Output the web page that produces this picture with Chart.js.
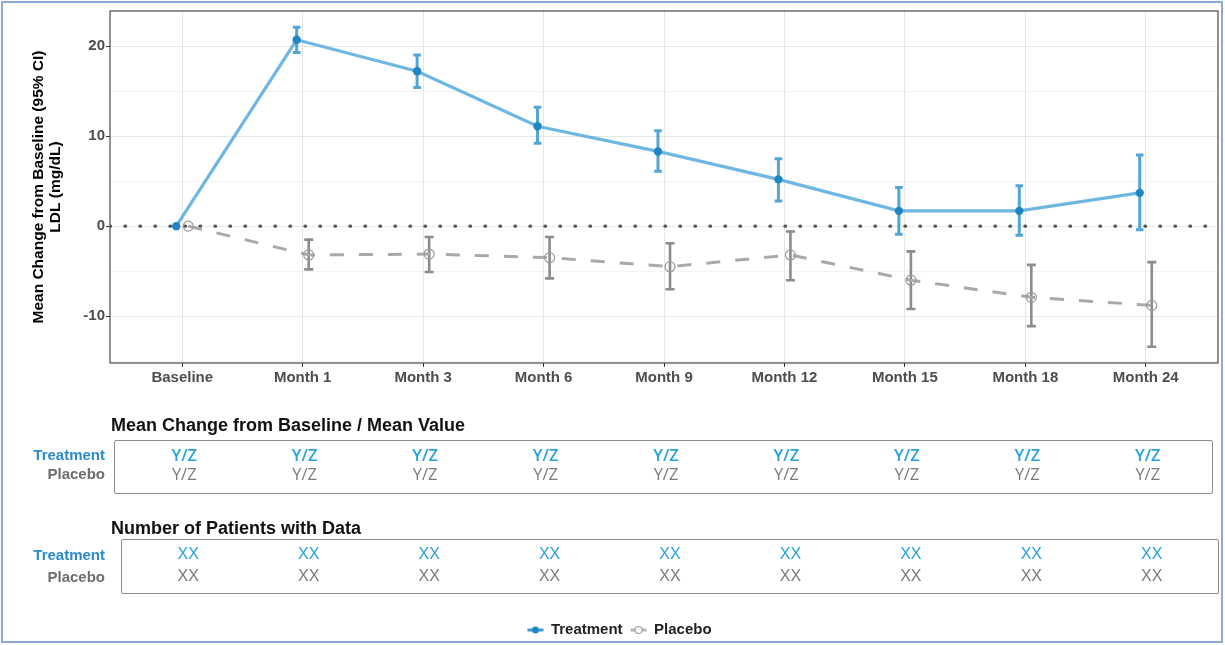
<!DOCTYPE html>
<html>
<head>
<meta charset="utf-8">
<title>LDL mean change from baseline</title>
<script src="https://cdn.jsdelivr.net/npm/chart.js@4/dist/chart.umd.min.js"></script>
<style>
  html, body { margin: 0; padding: 0; background: #fff; }
  #wrap { position: relative; width: 1225px; height: 645px; overflow: hidden; background: #fff; }
  #chart { position: absolute; left: 0; top: 0; }
  .frame { position: absolute; left: 1px; top: 1px; width: 1222px; height: 642px;
           border: 2px solid #8ea9d8; box-sizing: border-box; pointer-events: none; }
  .ttl { position: absolute; left: 111px; transform: translateY(-50%); white-space: nowrap;
         font: bold 18px "Liberation Sans", Arial, sans-serif; color: #111; }
  .box { position: absolute; border: 1.5px solid #8c8c8c; border-radius: 2px; box-sizing: border-box; }
  .rowlab { position: absolute; transform: translate(-100%, -50%); white-space: nowrap;
            font: bold 15px "Liberation Sans", Arial, sans-serif; }
  .cell { position: absolute; transform: translate(-50%, -50%); white-space: nowrap; }
  .yz { font-family: "Open Sans", sans-serif; font-size: 16.5px; }
  .xx { font-family: "Liberation Sans", Arial, sans-serif; font-size: 16px; }
  .trt { color: #27a2dd; }
  .pbo { color: #7b7b7b; }
</style>
</head>
<body>
<div id="wrap">
  <canvas id="chart" width="1225" height="645"></canvas>
  <div id="tables"></div>
  <div class="frame"></div>
</div>
<script>
// ---- data ----
const categories = ['Baseline', 'Month 1', 'Month 3', 'Month 6', 'Month 9', 'Month 12', 'Month 15', 'Month 18', 'Month 24'];

const treatmentMean  = [0, 20.7, 17.2, 11.1, 8.3, 5.2, 1.7, 1.7, 3.7];
const treatmentLower = [null, 19.3, 15.4, 9.2, 6.1, 2.8, -0.9, -1.0, -0.4];
const treatmentUpper = [null, 22.1, 19.0, 13.2, 10.6, 7.5, 4.3, 4.5, 7.9];

const placeboMean  = [0, -3.2, -3.1, -3.5, -4.5, -3.2, -6.0, -7.9, -8.8];
const placeboLower = [null, -4.8, -5.1, -5.8, -7.0, -6.0, -9.2, -11.1, -13.4];
const placeboUpper = [null, -1.5, -1.2, -1.2, -1.9, -0.6, -2.8, -4.3, -4.0];

const referenceValue = 0;

const yMajorTicks = [-10, 0, 10, 20];
const yMinorTicks = [-15, -5, 5, 15];

const changeTreatment = ['Y/Z', 'Y/Z', 'Y/Z', 'Y/Z', 'Y/Z', 'Y/Z', 'Y/Z', 'Y/Z', 'Y/Z'];
const changePlacebo   = ['Y/Z', 'Y/Z', 'Y/Z', 'Y/Z', 'Y/Z', 'Y/Z', 'Y/Z', 'Y/Z', 'Y/Z'];
const patientsTreatment = ['XX', 'XX', 'XX', 'XX', 'XX', 'XX', 'XX', 'XX', 'XX'];
const patientsPlacebo   = ['XX', 'XX', 'XX', 'XX', 'XX', 'XX', 'XX', 'XX', 'XX'];

// ---- styling ----
const FONT = '"Liberation Sans", Arial, sans-serif';
const DODGE = 0.05;           // horizontal offset of the two arms around each visit
const X_MIN = -0.6, X_MAX = 8.6;
const Y_MIN = -15.2, Y_MAX = 23.9;

const BLUE_LINE = 'rgba(74, 165, 218, 0.8)';
const BLUE_DOT = '#1f86c3';
const BLUE_ERR = 'rgba(38, 144, 204, 0.8)';
const GREY_LINE = '#a9a9a9';
const GREY_ERR = '#8c8c8c';

const toPoints = (values, shift) => values.map((v, i) => ({ x: i + shift, y: v }));

// small legend glyphs: a line segment with the series marker on it
function legendGlyph(lineColor, fill, stroke, r) {
  const c = document.createElement('canvas');
  c.width = 18; c.height = 12;
  const g = c.getContext('2d');
  g.strokeStyle = lineColor; g.lineWidth = 3;
  g.beginPath(); g.moveTo(1, 6); g.lineTo(17, 6); g.stroke();
  g.beginPath(); g.arc(9, 6, r, 0, Math.PI * 2);
  if (fill) { g.fillStyle = fill; g.fill(); }
  if (stroke) { g.strokeStyle = stroke; g.lineWidth = 1.2; g.stroke(); }
  return c;
}

// vertical 95% CI bars with caps, drawn through the chart's scales
const errorBars = {
  id: 'errorBars',
  beforeDatasetsDraw(chart) {
    const { ctx, chartArea, scales: { x, y } } = chart;
    ctx.save();
    ctx.beginPath();
    ctx.rect(chartArea.left, chartArea.top, chartArea.right - chartArea.left, chartArea.bottom - chartArea.top);
    ctx.clip();
    chart.data.datasets.forEach((ds, di) => {
      if (!ds.errorLower || chart.getDatasetMeta(di).hidden) return;
      ctx.strokeStyle = ds.errorColor;
      ctx.lineWidth = ds.errorWidth;
      ctx.lineCap = 'butt';
      ds.data.forEach((p, i) => {
        const lo = ds.errorLower[i], hi = ds.errorUpper[i];
        if (lo == null || hi == null) return;
        const px = x.getPixelForValue(p.x);
        const pLo = y.getPixelForValue(lo);
        const pHi = y.getPixelForValue(hi);
        const w = ds.errorCap;
        ctx.beginPath();
        ctx.moveTo(px, pLo); ctx.lineTo(px, pHi);
        ctx.moveTo(px - w, pLo); ctx.lineTo(px + w, pLo);
        ctx.moveTo(px - w, pHi); ctx.lineTo(px + w, pHi);
        ctx.stroke();
      });
    });
    ctx.restore();
  }
};

// full rectangle around the plotting panel
const panelBorder = {
  id: 'panelBorder',
  afterDatasetsDraw(chart) {
    const { ctx, chartArea: a } = chart;
    ctx.save();
    ctx.strokeStyle = '#4a4a4a';
    ctx.lineWidth = 1.2;
    ctx.strokeRect(a.left, a.top, a.right - a.left, a.bottom - a.top);
    ctx.restore();
  }
};

const isMajor = v => yMajorTicks.includes(v);

const chart = new Chart(document.getElementById('chart'), {
  type: 'line',
  data: {
    datasets: [
      {
        label: 'Treatment',
        data: toPoints(treatmentMean, -DODGE),
        errorLower: treatmentLower,
        errorUpper: treatmentUpper,
        errorColor: BLUE_ERR, errorWidth: 3, errorCap: 3.8,
        borderColor: BLUE_LINE, borderWidth: 3.2,
        pointRadius: 4.2, pointBackgroundColor: BLUE_DOT, pointBorderWidth: 0,
        legendGlyph: legendGlyph('rgba(38,144,204,0.9)', BLUE_DOT, null, 3.5),
        tension: 0
      },
      {
        label: 'Placebo',
        data: toPoints(placeboMean, DODGE),
        errorLower: placeboLower,
        errorUpper: placeboUpper,
        errorColor: GREY_ERR, errorWidth: 2.6, errorCap: 4.5,
        borderColor: GREY_LINE, borderWidth: 3, borderDash: [14, 15],
        pointRadius: 5, pointBackgroundColor: 'rgba(255,255,255,0)',
        pointBorderColor: '#9a9a9a', pointBorderWidth: 1.2,
        legendGlyph: legendGlyph('#b5b5b5', '#ffffff', '#9a9a9a', 3.5),
        tension: 0
      },
      {
        label: 'reference',
        data: [{ x: X_MIN, y: referenceValue }, { x: X_MAX, y: referenceValue }],
        borderColor: '#555555', borderWidth: 3.4,
        borderDash: [0.5, 14.5], borderCapStyle: 'round',
        pointRadius: 0
      }
    ]
  },
  options: {
    responsive: false,
    animation: false,
    devicePixelRatio: 1,
    layout: { autoPadding: false, padding: { top: 11, right: 7, left: 21, bottom: -2.5 } },
    plugins: {
      tooltip: { enabled: false },
      legend: {
        position: 'bottom',
        align: 'center',
        labels: {
          usePointStyle: true,
          pointStyleWidth: 16,
          padding: 8,
          color: '#222',
          font: { family: FONT, size: 15, weight: 'bold' },
          generateLabels(ch) {
            const items = Chart.defaults.plugins.legend.labels.generateLabels(ch);
            return items
              .filter(it => ch.data.datasets[it.datasetIndex].legendGlyph)
              .map(it => Object.assign(it, { pointStyle: ch.data.datasets[it.datasetIndex].legendGlyph }));
          }
        }
      }
    },
    scales: {
      x: {
        type: 'linear',
        min: X_MIN, max: X_MAX,
        afterBuildTicks(scale) { scale.ticks = categories.map((_, i) => ({ value: i })); },
        afterFit(scale) { scale.height = 251.5; },
        ticks: {
          autoSkip: false, maxRotation: 0, minRotation: 0, padding: 2,
          color: '#4d4d4d',
          font: { family: FONT, size: 15, weight: 'bold', lineHeight: 1.2 },
          callback: v => categories[v]
        },
        grid: { color: '#e6e6e6', lineWidth: 1, tickColor: '#333', tickLength: 4 },
        border: { display: false }
      },
      y: {
        type: 'linear',
        min: Y_MIN, max: Y_MAX,
        afterBuildTicks(scale) {
          scale.ticks = yMinorTicks.concat(yMajorTicks).sort((a, b) => a - b).map(v => ({ value: v }));
        },
        afterFit(scale) { scale.width = 89; },
        ticks: {
          padding: 1,
          color: '#4d4d4d',
          font: { family: FONT, size: 15, weight: 'bold', lineHeight: 1.2 },
          callback: v => isMajor(v) ? String(v) : ''
        },
        grid: {
          color: c => (c.tick && isMajor(c.tick.value)) ? '#e6e6e6' : '#f0f0f0',
          lineWidth: c => (c.tick && isMajor(c.tick.value)) ? 1 : 0.8,
          tickColor: c => (c.tick && isMajor(c.tick.value)) ? '#333' : 'rgba(0,0,0,0)',
          tickLength: 4
        },
        border: { display: false },
        title: {
          display: true,
          text: ['Mean Change from Baseline (95% CI)', 'LDL (mg/dL)'],
          color: '#000',
          font: { family: FONT, size: 15.5, weight: 'bold', lineHeight: 1.12 },
          padding: { top: 8.6, bottom: 0 }
        }
      }
    }
  },
  plugins: [errorBars, panelBorder]
});

// ---- summary tables under the plot, columns aligned to the visit axis ----
(function buildTables() {
  const host = document.getElementById('tables');
  const xs = categories.map((_, i) => chart.scales.x.getPixelForValue(i));
  const add = (cls, text, style) => {
    const d = document.createElement('div');
    d.className = cls; d.textContent = text;
    Object.assign(d.style, style);
    host.appendChild(d);
    return d;
  };

  const tables = [
    { title: 'Mean Change from Baseline / Mean Value', titleY: 425,
      box: { left: 114, top: 440, width: 1099, height: 54 },
      rows: [{ y: 454, label: 'Treatment', cls: 'trt', vals: changeTreatment, weight: 600 },
             { y: 473, label: 'Placebo', cls: 'pbo', vals: changePlacebo, weight: 400 }],
      valueCls: 'yz', shift: 2 },
    { title: 'Number of Patients with Data', titleY: 528,
      box: { left: 121, top: 539, width: 1098, height: 55 },
      rows: [{ y: 554, label: 'Treatment', cls: 'trt', vals: patientsTreatment, weight: 400 },
             { y: 576, label: 'Placebo', cls: 'pbo', vals: patientsPlacebo, weight: 400 }],
      valueCls: 'xx', shift: 6 }
  ];

  tables.forEach(t => {
    add('ttl', t.title, { top: t.titleY + 'px' });
    add('box', '', { left: t.box.left + 'px', top: t.box.top + 'px',
                     width: t.box.width + 'px', height: t.box.height + 'px' });
    t.rows.forEach(r => {
      add('rowlab ' + r.cls, r.label, { left: '105px', top: r.y + 'px',
                                        color: r.cls === 'trt' ? '#2b8bc9' : '#6e6e6e' });
      r.vals.forEach((v, i) => {
        add('cell ' + t.valueCls + ' ' + r.cls, v,
            { left: (xs[i] + t.shift) + 'px', top: r.y + 'px', fontWeight: r.weight });
      });
    });
  });
})();
</script>
</body>
</html>
